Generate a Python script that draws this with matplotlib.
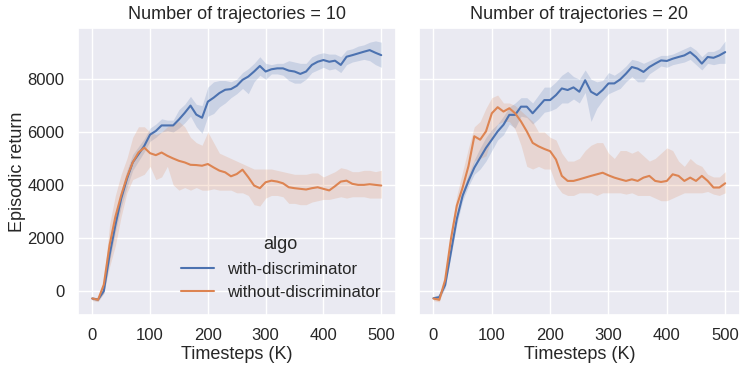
import numpy as np
import matplotlib
matplotlib.use("Agg")
import matplotlib.pyplot as plt
import seaborn as sns

# Timesteps (K), read every 10K off the reference
timesteps = np.arange(0, 501, 10)

# Number of trajectories = 10
with_mean_10 = [-300, -340, -20, 1350, 2475, 3475, 4225, 4850, 5160, 5475,
                5900, 6040, 6250, 6250, 6250, 6475, 6725, 7000, 6660, 6540,
                7150, 7300, 7475, 7600, 7625, 7750, 7975, 8100, 8290, 8500,
                8290, 8375, 8410, 8410, 8325, 8290, 8200, 8290, 8540, 8660,
                8725, 8660, 8700, 8540, 8850, 8910, 8975, 9040, 9100, 9000,
                8910]
with_low_10 = [-360, -400, -100, 1100, 2200, 3150, 3900, 4550, 4900, 5250,
               5650, 5800, 6000, 6050, 6000, 6150, 6350, 6600, 6200, 5950,
               6600, 6700, 6950, 7100, 7300, 7450, 7650, 7450, 7900, 8150,
               8000, 8200, 8200, 8150, 7950, 7850, 7850, 8000, 8250, 8350,
               8450, 8350, 8400, 8250, 8550, 8650, 8700, 8750, 8700, 8550,
               8450]
with_high_10 = [-260, -290, 80, 1600, 2800, 3800, 4550, 5150, 5450, 5750,
                6150, 6300, 6500, 6450, 6450, 6850, 7050, 7350, 7050, 7000,
                7700, 7900, 7950, 7950, 7900, 8000, 8250, 8400, 8600, 8850,
                8600, 8550, 8600, 8600, 8700, 8650, 8600, 8600, 8850, 8950,
                9000, 8950, 8950, 8850, 9100, 9150, 9250, 9300, 9400, 9450,
                9400]
without_mean_10 = [-300, -350, 225, 1725, 2790, 3600, 4290, 4850, 5225, 5410,
                   5200, 5125, 5225, 5100, 5000, 4910, 4850, 4760, 4750, 4725,
                   4790, 4660, 4540, 4475, 4325, 4410, 4575, 4290, 3975, 3875,
                   4100, 4160, 4125, 4060, 3910, 3875, 3850, 3825, 3875, 3910,
                   3850, 3790, 3950, 4125, 4160, 4040, 4000, 4000, 4025, 4000,
                   3975]
without_low_10 = [-380, -420, -100, 900, 1700, 2800, 3700, 4200, 4300, 4400,
                  4700, 4200, 4300, 4700, 4000, 3800, 3900, 3800, 3900, 3800,
                  3800, 3850, 3800, 3800, 3800, 3700, 3700, 3600, 3250, 3200,
                  3500, 3600, 3600, 3550, 3300, 3300, 3250, 3250, 3350, 3400,
                  3450, 3450, 3500, 3550, 3500, 3550, 3550, 3550, 3500, 3500,
                  3500]
without_high_10 = [-220, -280, 350, 2500, 3600, 4400, 5000, 5800, 6200, 6200,
                   6000, 5900, 6000, 6200, 6300, 6400, 6200, 5800, 5600, 5500,
                   6000, 5600, 5200, 5100, 5000, 4900, 4800, 4700, 4600, 4600,
                   4600, 4600, 4550, 4500, 4450, 4400, 4400, 4400, 4450, 4450,
                   4300, 4400, 4500, 4650, 4600, 4500, 4500, 4550, 4550, 4500,
                   4550]

# Number of trajectories = 20
with_mean_20 = [-290, -250, 210, 1460, 2710, 3590, 4150, 4650, 5025, 5400,
                5710, 6025, 6275, 6650, 6650, 6960, 6960, 6710, 6960, 7210,
                7210, 7400, 7650, 7590, 7690, 7525, 7960, 7525, 7400, 7590,
                7840, 7840, 7990, 8210, 8460, 8400, 8275, 8460, 8590, 8710,
                8690, 8775, 8840, 8900, 9025, 8840, 8590, 8840, 8810, 8900,
                9025]
with_low_20 = [-350, -330, 100, 1300, 2500, 3400, 3950, 4400, 4600, 4900,
               5300, 5700, 5900, 6300, 6150, 6600, 6550, 6300, 6500, 6750,
               6800, 6900, 7100, 7100, 7250, 7100, 7500, 6400, 6900, 7200,
               7450, 7550, 7650, 7900, 8100, 7900, 7900, 8200, 8350, 8500,
               8450, 8550, 8600, 8650, 8750, 8550, 8350, 8600, 8550, 8600,
               8600]
with_high_20 = [-230, -150, 330, 1650, 2900, 3800, 4400, 4950, 5400, 5800,
                6100, 6300, 6600, 6950, 7100, 7300, 7300, 7100, 7400, 7700,
                7700, 7900, 8150, 8300, 8100, 8000, 8350, 8000, 7900, 7950,
                8250, 8150, 8300, 8500, 8750, 8700, 8600, 8700, 8800, 8900,
                8900, 8950, 9050, 9150, 9250, 9100, 8850, 9050, 9050, 9150,
                9450]
without_mean_20 = [-300, -350, 400, 1960, 3210, 3900, 4710, 5840, 5710, 6025,
                   6710, 6940, 6775, 6900, 6710, 6400, 6025, 5590, 5460, 5360,
                   5275, 4960, 4340, 4150, 4150, 4210, 4275, 4340, 4400, 4460,
                   4360, 4275, 4210, 4150, 4210, 4150, 4275, 4340, 4150, 4110,
                   4150, 4400, 4340, 4150, 4275, 4150, 4340, 4150, 3900, 3900,
                   4060]
without_low_20 = [-380, -430, 250, 1700, 2900, 3600, 4100, 4900, 5000, 5100,
                  5800, 6300, 6400, 6400, 6100, 5500, 4700, 4600, 4700, 4600,
                  4600, 4000, 3700, 3600, 3600, 3700, 3700, 3700, 3600, 3700,
                  3700, 3700, 3700, 3650, 3700, 3600, 3600, 3600, 3500, 3400,
                  3400, 3500, 3600, 3700, 3700, 3700, 3700, 3750, 3650, 3600,
                  3700]
without_high_20 = [-220, -270, 550, 2300, 3600, 4500, 5400, 6200, 6400, 6900,
                   7300, 7400, 7100, 7100, 7000, 6800, 6600, 6400, 6000, 6000,
                   5800, 5700, 5200, 4900, 4900, 5000, 5300, 5500, 5600, 5600,
                   5200, 5000, 5300, 5300, 5200, 5300, 5100, 4900, 5000, 5200,
                   5400, 5300, 4900, 4700, 5000, 4800, 4700, 4400, 4300, 4300,
                   4500]

panels = [
    ("Number of trajectories = 10",
     [(with_mean_10, with_low_10, with_high_10),
      (without_mean_10, without_low_10, without_high_10)]),
    ("Number of trajectories = 20",
     [(with_mean_20, with_low_20, with_high_20),
      (without_mean_20, without_low_20, without_high_20)]),
]
algos = ["with-discriminator", "without-discriminator"]

sns.set_theme(style="darkgrid")
plt.rcParams['font.family'] = ['Liberation Sans', 'DejaVu Sans']
colors = sns.color_palette("deep")[:2]

fig = plt.figure(figsize=(7.48, 3.71), dpi=100)
ax1 = fig.add_axes([0.104, 0.151, 0.425, 0.774])
ax2 = fig.add_axes([0.560, 0.151, 0.429, 0.774], sharey=ax1)

for ax, (title, series) in zip([ax1, ax2], panels):
    for (mean, low, high), c, name in zip(series, colors, algos):
        ax.fill_between(timesteps, low, high, color=c, alpha=0.2, linewidth=0)
        ax.plot(timesteps, mean, color=c, linewidth=1.5, label=name)
    ax.set_title(title, fontsize=13)
    ax.set_xlabel("Timesteps (K)", fontsize=13, labelpad=2)
    ax.set_xticks([0, 100, 200, 300, 400, 500])
    ax.tick_params(labelsize=12)

ax1.set_ylabel("Episodic return", fontsize=13, labelpad=1)
ax1.set_yticks([0, 2000, 4000, 6000, 8000])
plt.setp(ax2.get_yticklabels(), visible=False)

leg = ax1.legend(title="algo", loc="lower right", frameon=False,
                 fontsize=12, title_fontsize=13, bbox_to_anchor=(1.0, 0.0))

fig.savefig("out.png", dpi=100)
